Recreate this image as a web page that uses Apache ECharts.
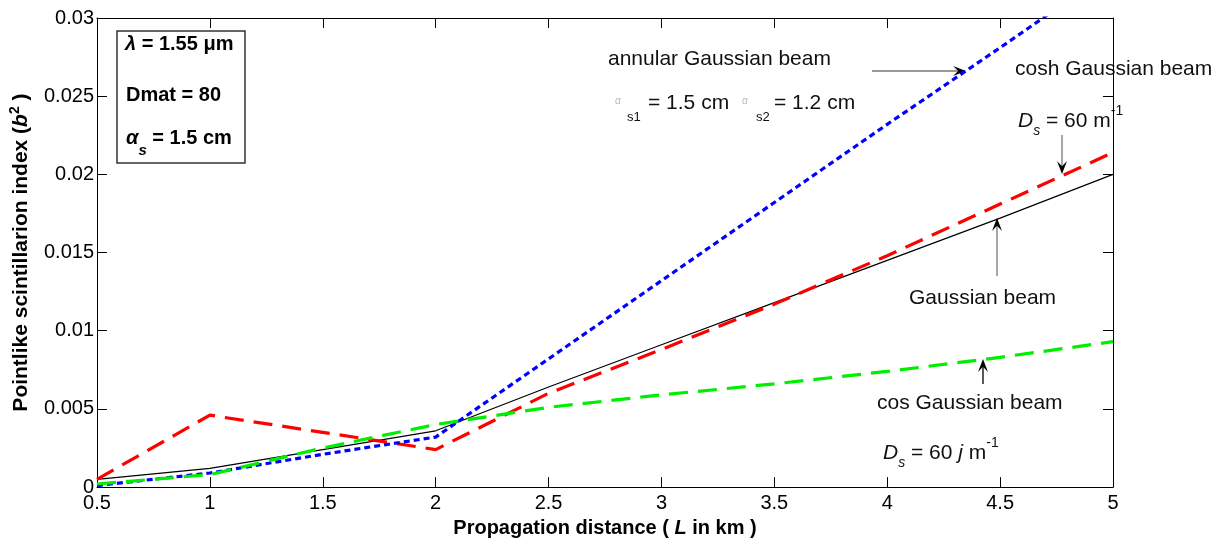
<!DOCTYPE html>
<html><head><meta charset="utf-8">
<script src="https://cdn.jsdelivr.net/npm/echarts@6/dist/echarts.min.js"></script>
<style>html,body{margin:0;padding:0;background:#fff}#c{width:1232px;height:543px}</style>
</head><body><div id="c"></div>
<script>
// ---- data ----
const distances = [0.5, 1, 1.5, 2, 2.5, 3, 3.5, 4, 4.5, 5];
const gaussianBeam = [0.0005, 0.0012, 0.0024, 0.0036, 0.0064, 0.0091, 0.0118, 0.0145, 0.0172, 0.0200];
const coshGaussianBeam = [0.0005, 0.0046, 0.0035, 0.0024, 0.0060, 0.0088, 0.0117, 0.0148, 0.0181, 0.0214];
const annularGaussianBeam = [0.0001, 0.0009, 0.0021, 0.0032, 0.0082, 0.0132, 0.0182, 0.0232, 0.0281, 0.0331];
const cosGaussianBeam = [0.0002, 0.0008, 0.0025, 0.0040, 0.0051, 0.0059, 0.0066, 0.0074, 0.0083, 0.0093];
const xRange = { min: 0.5, max: 5, interval: 0.5 };
const yRange = { min: 0, max: 0.03, interval: 0.005 };

const FF = "'Liberation Sans', Arial, Helvetica, sans-serif";
const pairs = ys => distances.map((x, i) => [x, ys[i]]);

const chart = echarts.init(document.getElementById('c'), null, { renderer: 'canvas' });

const axisCommon = {
  axisLine: { show: true, onZero: false, lineStyle: { color: '#000', width: 1 } },
  axisTick: { show: true, inside: true, length: 10, lineStyle: { color: '#000', width: 1 } },
  splitLine: { show: false }
};

function arrow(x1, y1, x2, y2, lineColor) {
  const dx = x2 - x1, dy = y2 - y1, len = Math.hypot(dx, dy);
  const ux = dx / len, uy = dy / len, nx = -uy, ny = ux;
  const L = 13, W = 5;
  const bx = x2 - ux * L, by = y2 - uy * L;
  const mx = x2 - ux * L * 0.6, my = y2 - uy * L * 0.6;
  return [
    { type: 'line', silent: true, shape: { x1, y1, x2: mx, y2: my }, style: { stroke: lineColor, lineWidth: 1.3 } },
    { type: 'polygon', silent: true, shape: { points: [[x2, y2], [bx + nx * W, by + ny * W], [mx, my], [bx - nx * W, by - ny * W]] }, style: { fill: '#000' } }
  ];
}

const annTxt = { fontFamily: FF, fontSize: 21, fill: '#111' };
const txt = (x, y, text, extra) => ({ type: 'text', x, y, style: Object.assign({ text, verticalAlign: 'middle' }, annTxt, extra || {}) });

const graphics = [
  { type: 'rect', silent: true, shape: { x: 117, y: 31, width: 128, height: 132 }, style: { fill: '#fff', stroke: '#333', lineWidth: 1.5 }, z: 10 },
  { type: 'text', z: 11, x: 125, y: 44, style: { text: '{g|λ}{b| = 1.55 μm}', verticalAlign: 'middle',
      rich: { g: { fontFamily: FF, fontSize: 20, fontWeight: 'bold', fontStyle: 'italic', fill: '#000' }, b: { fontFamily: FF, fontSize: 20, fontWeight: 'bold', fill: '#000' } } } },
  { type: 'text', z: 11, x: 126, y: 95, style: { text: 'Dmat = 80', verticalAlign: 'middle', fontFamily: FF, fontSize: 20, fontWeight: 'bold', fill: '#000' } },
  { type: 'text', z: 11, x: 126, y: 143, style: { text: '{g|α}{s|s}{b| = 1.5 cm}', verticalAlign: 'middle',
      rich: { g: { fontFamily: FF, fontSize: 20, fontWeight: 'bold', fontStyle: 'italic', fill: '#000', lineHeight: 30, verticalAlign: 'top' },
              s: { fontFamily: FF, fontSize: 15, fontWeight: 'bold', fontStyle: 'italic', fill: '#000', lineHeight: 15, verticalAlign: 'bottom' },
              b: { fontFamily: FF, fontSize: 20, fontWeight: 'bold', fill: '#000', lineHeight: 30, verticalAlign: 'top' } } } },

  txt(608, 59, 'annular Gaussian beam'),
  txt(615, 101, 'α', { fontSize: 10, fontStyle: 'italic', fill: '#bbb' }),
  txt(627, 117, 's1', { fontSize: 13 }),
  txt(648, 103, '= 1.5 cm'),
  txt(742, 101, 'α', { fontSize: 10, fontStyle: 'italic', fill: '#bbb' }),
  txt(756, 117, 's2', { fontSize: 13 }),
  txt(774, 103, '= 1.2 cm'),

  txt(1015, 69, 'cosh Gaussian beam'),
  { type: 'text', x: 1018, y: 121, style: { text: '{d|D}{s|s}{n| = 60 m}{p|-1}', verticalAlign: 'middle',
      rich: { d: { fontFamily: FF, fontSize: 21, fontStyle: 'italic', fill: '#111', lineHeight: 34, verticalAlign: 'middle' },
              s: { fontFamily: FF, fontSize: 14, fontStyle: 'italic', fill: '#111', lineHeight: 14, verticalAlign: 'bottom' },
              n: { fontFamily: FF, fontSize: 21, fill: '#111', lineHeight: 34, verticalAlign: 'middle' },
              p: { fontFamily: FF, fontSize: 14, fill: '#111', lineHeight: 14, verticalAlign: 'top' } } } },

  txt(909, 298, 'Gaussian beam'),
  txt(877, 403, 'cos Gaussian beam'),
  { type: 'text', x: 883, y: 453, style: { text: '{d|D}{s|s}{n| = 60 }{j|j}{n| m}{p|-1}', verticalAlign: 'middle',
      rich: { d: { fontFamily: FF, fontSize: 21, fontStyle: 'italic', fill: '#111', lineHeight: 34, verticalAlign: 'middle' },
              s: { fontFamily: FF, fontSize: 14, fontStyle: 'italic', fill: '#111', lineHeight: 14, verticalAlign: 'bottom' },
              n: { fontFamily: FF, fontSize: 21, fill: '#111', lineHeight: 34, verticalAlign: 'middle' },
              j: { fontFamily: FF, fontSize: 21, fontStyle: 'italic', fill: '#111', lineHeight: 34, verticalAlign: 'middle' },
              p: { fontFamily: FF, fontSize: 14, fill: '#111', lineHeight: 14, verticalAlign: 'top' } } } }
].concat(
  arrow(872, 71, 966, 71, '#777'),
  arrow(1062, 135, 1062, 174, '#777'),
  arrow(997, 276, 997, 218, '#777'),
  arrow(983, 384, 983, 359, '#000')
);

chart.setOption({
  animation: false,
  backgroundColor: '#fff',
  grid: { left: 97, right: 119, top: 18, bottom: 52, containLabel: false },
  xAxis: [
    Object.assign({
      type: 'value', position: 'bottom', min: xRange.min, max: xRange.max, interval: xRange.interval,
      axisLabel: { color: '#000', fontFamily: FF, fontSize: 20, margin: 6, formatter: v => String(+v.toFixed(2)) },
      name: '{n|Propagation distance ( }{i|L}{n| in km )}', nameLocation: 'middle', nameGap: 26,
      nameTextStyle: { rich: { n: { fontFamily: FF, fontSize: 20, fontWeight: 'bold', color: '#000' }, i: { fontFamily: FF, fontSize: 20, fontWeight: 'bold', fontStyle: 'italic', color: '#000' } } }
    }, axisCommon),
    Object.assign({
      type: 'value', position: 'top', min: xRange.min, max: xRange.max, interval: xRange.interval,
      axisLabel: { show: false }
    }, axisCommon)
  ],
  yAxis: [
    Object.assign({
      type: 'value', position: 'left', min: yRange.min, max: yRange.max, interval: yRange.interval,
      axisLabel: { color: '#000', fontFamily: FF, fontSize: 20, margin: 3, formatter: v => String(+v.toFixed(3)) },
      name: '{n|Pointlike scintillarion index (}{i|b}{p|2}{n| )}', nameLocation: 'middle', nameGap: 63, nameRotate: 90,
      nameTextStyle: { rich: {
        n: { fontFamily: FF, fontSize: 21, fontWeight: 'bold', color: '#000', lineHeight: 26, verticalAlign: 'middle' },
        i: { fontFamily: FF, fontSize: 21, fontWeight: 'bold', fontStyle: 'italic', color: '#000', lineHeight: 26, verticalAlign: 'middle' },
        p: { fontFamily: FF, fontSize: 14, fontWeight: 'bold', color: '#000', lineHeight: 14, verticalAlign: 'top' } } }
    }, axisCommon),
    Object.assign({
      type: 'value', position: 'right', min: yRange.min, max: yRange.max, interval: yRange.interval,
      axisLabel: { show: false }
    }, axisCommon)
  ],
  series: [
    { name: 'Gaussian beam', type: 'line', data: pairs(gaussianBeam), showSymbol: false, symbol: 'none', clip: true,
      lineStyle: { color: '#000', width: 1.2, type: 'solid' }, z: 2 },
    { name: 'cosh Gaussian beam', type: 'line', data: pairs(coshGaussianBeam), showSymbol: false, symbol: 'none', clip: true,
      lineStyle: { color: '#ff0000', width: 3.2, type: [19, 10] }, z: 3 },
    { name: 'annular Gaussian beam', type: 'line', data: pairs(annularGaussianBeam), showSymbol: false, symbol: 'none', clip: true,
      lineStyle: { color: '#0000ff', width: 3.2, type: [6, 4] }, z: 4 },
    { name: 'cos Gaussian beam', type: 'line', data: pairs(cosGaussianBeam), showSymbol: false, symbol: 'none', clip: true,
      lineStyle: { color: '#00ee00', width: 3.2, type: [19, 10] }, z: 5 }
  ],
  graphic: graphics
});
</script>
</body></html>
